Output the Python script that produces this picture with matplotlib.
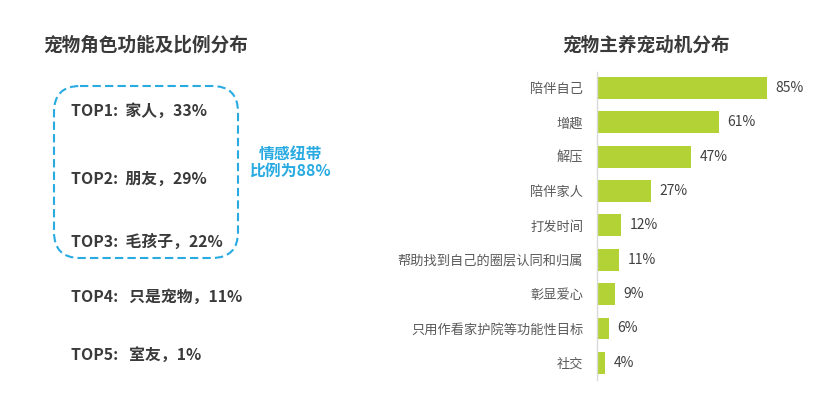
import matplotlib
matplotlib.use("Agg")
import matplotlib.pyplot as plt
from matplotlib.patches import FancyBboxPatch

plt.rcParams['font.family'] = ['Noto Sans CJK SC', 'DejaVu Sans']

# left panel: pet roles
roles = ["TOP1:  家人，33%", "TOP2:  朋友，29%", "TOP3:  毛孩子，22%",
         "TOP4:   只是宠物，11%", "TOP5:   室友，1%"]
role_y = [111, 179, 242, 297, 355]

# right panel: motivations
motives = ["陪伴自己", "增趣", "解压", "陪伴家人", "打发时间",
           "帮助找到自己的圈层认同和归属", "彰显爱心", "只用作看家护院等功能性目标", "社交"]
shares = [85, 61, 47, 27, 12, 11, 9, 6, 4]

W, H = 824, 400
fig = plt.figure(figsize=(W / 100, H / 100), dpi=100)
fig.patch.set_facecolor("white")

# overlay in pixel coords for the left panel
ov = fig.add_axes([0, 0, 1, 1])
ov.set_xlim(0, W)
ov.set_ylim(H, 0)
ov.axis("off")

dark = "#3a3a3a"
blue = "#29abe2"

ov.text(43, 45, "宠物角色功能及比例分布", fontsize=13.4, fontweight="bold",
        color=dark, va="center", ha="left")
for label, y in zip(roles, role_y):
    ov.text(71, y, label, fontsize=11.4, fontweight="bold", color=dark,
            va="center", ha="left")

box = FancyBboxPatch((54, 86), 184, 172,
                     boxstyle="round,pad=0,rounding_size=26",
                     fill=False, edgecolor=blue, linewidth=1.5,
                     linestyle=(0, (4, 2)))
ov.add_patch(box)
ov.text(290, 162, "情感纽带\n比例为88%", fontsize=11.4, fontweight="bold",
        color=blue, ha="center", va="center", linespacing=1.05)

ov.text(646, 45, "宠物主养宠动机分布", fontsize=13.4, fontweight="bold",
        color=dark, va="center", ha="center")

# bar chart
left_px, top_px, bottom_px = 597, 72, 380
ax = fig.add_axes([left_px / W, 1 - bottom_px / H, 200 / W, (bottom_px - top_px) / H])
ypos = list(range(len(motives)))
bars = ax.barh(ypos, shares, height=0.64, color="#b2d235")
ax.set_xlim(0, 100)
ax.set_ylim(8.5, -0.47)
ax.set_yticks(ypos)
ax.set_yticklabels(motives, fontsize=9.5, color="#595959")
ax.tick_params(axis="y", length=0, pad=10)
ax.set_xticks([])
for s in ["top", "right", "bottom"]:
    ax.spines[s].set_visible(False)
ax.spines["left"].set_color("#d9d9d9")
ax.spines["left"].set_linewidth(1.0)
ax.bar_label(bars, labels=[f"{v}%" for v in shares], padding=6,
             fontsize=10, color="#404040")
ax.patch.set_alpha(0)

fig.savefig("out.png", dpi=100, facecolor="white")
